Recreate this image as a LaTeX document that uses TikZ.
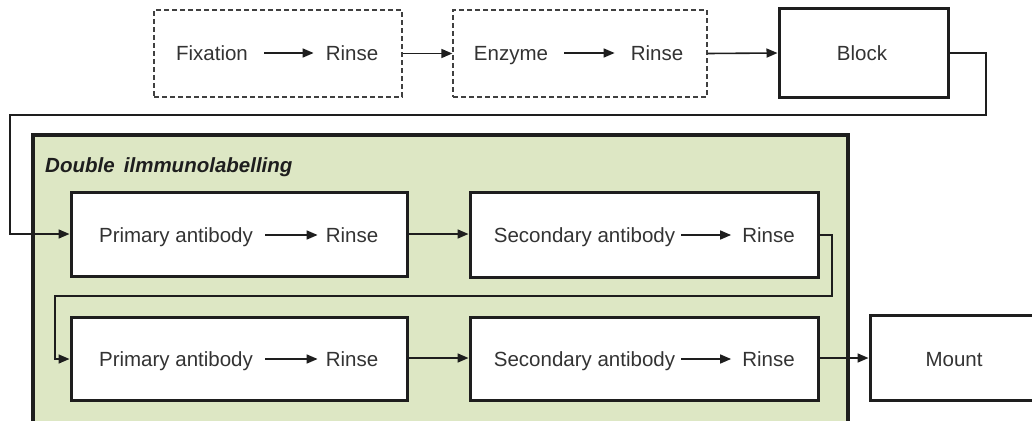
\documentclass[tikz,border=0pt]{standalone}
\usepackage{fontspec}
\setmainfont{Liberation Sans}
\usetikzlibrary{arrows.meta}
\definecolor{txt}{HTML}{333333}
\definecolor{ln}{HTML}{1E1E1E}
\definecolor{greenbg}{HTML}{DDE7C4}
\begin{document}
\begin{tikzpicture}[x=1pt,y=-1pt,
  every node/.style={font=\fontsize{20.5}{24}\selectfont, text=txt},
  dashbox/.style={draw=ln!85, line width=1.3pt, dash pattern=on 5pt off 3pt, fill=white, minimum height=87pt, inner sep=0pt},
  thickbox/.style={draw=ln, line width=3pt, fill=white, inner sep=0pt},
  lbl/.style={inner sep=0pt, text height=15pt, text depth=4pt},
  conn/.style={draw=ln, line width=1.6pt},
  arr/.style={conn, -{Triangle[length=11pt,width=9pt]}},
]
\useasboundingbox (0,0) rectangle (1032,420);
\clip (0,0) rectangle (1032,420);
\fill[white] (0,0) rectangle (1032,420);

% top row
\node[dashbox, minimum width=248pt] (b1) at (278,53.5) {};
\node[lbl] (fix) at (212,55) {Fixation};
\node[lbl] (r1) at (352,55) {Rinse};
\node[dashbox, minimum width=254pt] (b2) at (580,53.5) {};
\node[lbl] (enz) at (511,55) {Enzyme};
\node[lbl] (r2) at (657,55) {Rinse};
\node[thickbox, minimum width=169pt, minimum height=88pt] (blk) at (863.5,53) {};
\node[lbl] (blkt) at (862,55) {Block};

\draw[arr, shorten <=16pt, shorten >=12pt] (fix.east |- 0,53) -- (r1.west |- 0,53);
\draw[arr, shorten <=16pt, shorten >=16pt] (enz.east |- 0,53) -- (r2.west |- 0,53);
\draw[arr] (b1.east) -- (b2.west);
\draw[arr] (b2.east) -- (blk.west);

% green group
\draw[draw=ln, line width=3.5pt, fill=greenbg] (33,135) rectangle (848,440);
\node[inner sep=0pt, anchor=west, font=\fontsize{20.5}{24}\selectfont\bfseries\itshape, text=ln] (grp) at (45,167) {Double\hspace{0.45em}ilmmunolabelling};

\node[thickbox, minimum width=336pt, minimum height=84pt] (p1) at (239,234) {};
\node[lbl] (pa1) at (176,237) {Primary antibody};
\node[lbl] (pr1) at (352,237) {Rinse};
\node[thickbox, minimum width=348pt, minimum height=85pt] (s1) at (644,234.5) {};
\node[lbl] (sa1) at (584.5,237) {Secondary antibody};
\node[lbl] (sr1) at (768.5,237) {Rinse};

\node[thickbox, minimum width=336pt, minimum height=83pt] (p2) at (239,358.5) {};
\node[lbl] (pa2) at (176,361) {Primary antibody};
\node[lbl] (pr2) at (352,361) {Rinse};
\node[thickbox, minimum width=348pt, minimum height=83pt] (s2) at (644,358.5) {};
\node[lbl] (sa2) at (584.5,361) {Secondary antibody};
\node[lbl] (sr2) at (768.5,361) {Rinse};

\node[thickbox, minimum width=172pt, minimum height=85pt] (mnt) at (956,357.5) {};
\node[lbl] (mt) at (954,361) {Mount};

\draw[arr, shorten <=12pt, shorten >=8pt] (pa1.east |- 0,235) -- (pr1.west |- 0,235);
\draw[arr, shorten <=6pt, shorten >=11pt] (sa1.east |- 0,235) -- (sr1.west |- 0,235);
\draw[arr, shorten <=12pt, shorten >=8pt] (pa2.east |- 0,359) -- (pr2.west |- 0,359);
\draw[arr, shorten <=6pt, shorten >=11pt] (sa2.east |- 0,359) -- (sr2.west |- 0,359);

\draw[arr] (p1.east |- 0,234) -- (s1.west |- 0,234);
\draw[arr] (p2.east |- 0,358) -- (s2.west |- 0,358);
\draw[arr] (s2.east |- 0,358) -- (mnt.west |- 0,358);

% long connectors
\draw[arr] (blk.east) -- (986,53) -- (986,115) -- (10,115) -- (10,234) -- (p1.west |- 0,234);
\draw[arr] (s1.east |- 0,235) -- (832,235) -- (832,296) -- (55,296) -- (55,359) -- (p2.west |- 0,359);
\end{tikzpicture}
\end{document}
